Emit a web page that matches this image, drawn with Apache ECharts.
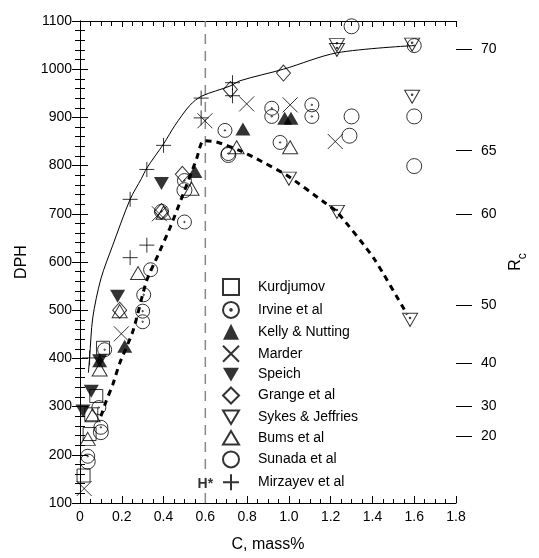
<!DOCTYPE html>
<html>
<head>
<meta charset="utf-8">
<script src="https://cdn.jsdelivr.net/npm/echarts@6/dist/echarts.min.js"></script>
<style>
body{margin:0;background:#fff}
#main{width:539px;height:558px}
</style>
</head>
<body>
<div id="main"></div>
<script>
// points: [C mass%, DPH]
var kurdjumov = [[0.11,422],[0.078,322],[0.054,284],[0.046,243],[0.017,157]]
var irvine = [[0.118,418],[0.09,298],[0.10,257],[0.037,197],[0.30,476],[0.30,498],[0.305,532],[0.338,584],
  [0.39,705],[0.50,683],[0.50,769],[0.694,873],[0.71,825],[0.918,919],[0.918,902],[0.958,848],[1.11,926],[1.11,902],[1.6,1049]]
var kelly = [[0.094,395],[0.214,425],[0.55,788],[0.78,876],[0.98,898],[1.01,898]]
var marder = [[0.02,130],[0.198,451],[0.38,700],[0.598,893],[0.798,928],[1.006,926],[1.222,850]]
var speich = [[0.014,291],[0.054,332],[0.094,395],[0.18,529],[0.39,763]]
var grange = [[0.19,500],[0.39,705],[0.49,782],[0.72,958],[0.974,992]]
var sykes = [[1.23,1050],[1.23,1040],[1.59,1051],[1.59,943],[1.0,773],[1.23,704],[1.58,480]]
var bums = [[0.037,233],[0.06,282],[0.094,377],[0.19,498],[0.278,577],[0.40,702],[0.534,752],[0.75,838],[1.006,838]]
var sunada = [[0.037,186],[0.10,247],[0.50,749],[0.71,822],[1.30,1089],[1.30,902],[1.29,862],[1.6,902],[1.6,799]]
var mirzayev = [[0.046,401],[0.24,609],[0.32,635],[0.24,730],[0.32,792],[0.40,842],[0.58,940],[0.58,899],[0.73,972],[0.73,945]]

// fitted curves
var curveSolid = [[0.04,370],[0.046,401],[0.061,484],[0.1,565],[0.157,635],[0.24,730],[0.294,773],[0.32,795],
  [0.40,845],[0.454,883],[0.526,925],[0.582,944],[0.718,965],[0.766,976],[0.974,1000],[1.23,1034],[1.598,1049]]
var curveDashed = [[0.1,280],[0.126,312],[0.157,346],[0.19,390],[0.253,456],[0.318,560],[0.374,615],[0.43,670],
  [0.486,732],[0.558,814],[0.59,852],[0.654,849],[0.766,831],[0.846,814],[0.99,780],[1.166,725],[1.23,704],[1.406,608],[1.566,491]]

var hStarC = 0.6
// Rockwell C scale on the right, with matching DPH values
var rcLabels = [20, 30, 40, 50, 60, 65, 70]
var rcDph = [238, 300, 390, 510, 700, 831, 1041]

var circleDot = 'path://M10,0A10,10 0 1,1 10,20A10,10 0 1,1 10,0ZM10,9A1,1 0 1,1 10,11A1,1 0 1,1 10,9Z'
var circle = 'path://M10,0A10,10 0 1,1 10,20A10,10 0 1,1 10,0Z'
var cross = 'path://M0,0L20,20M20,0L0,20'
var plus = 'path://M10,0L10,20M0,10L20,10'
var downTri = 'path://M0,0L20,0L10,17Z'
var downTriDot = 'path://M0,0L20,0L10,17ZM10,5A1,1 0 1,1 10,7A1,1 0 1,1 10,5Z'
var upTri = 'path://M10,0L20,17L0,17Z'

function scat(name, data, symbol, size, filled) {
  return {
    name: name, type: 'scatter', data: data, symbol: symbol, symbolSize: size,
    itemStyle: {color: filled ? '#000' : 'rgba(0,0,0,0)', borderColor: '#000', borderWidth: filled ? 0 : 1},
    emphasis: {disabled: true}, silent: true, z: 3
  }
}

var font = 'Liberation Sans, Arial, sans-serif'
var black = {color: '#000', width: 1}

var myChart = echarts.init(document.getElementById('main'))
var option = {
  animation: false,
  textStyle: {fontFamily: font},
  grid: {left: 80, right: 83, top: 21, bottom: 52},
  legend: {
    orient: 'vertical', left: 222, top: 278, padding: 0,
    itemWidth: 16, itemHeight: 16, itemGap: 4.9,
    selectedMode: false,
    textStyle: {fontSize: 14, color: '#000', fontFamily: font, padding: [0, 0, 0, 14]},
    data: ['Kurdjumov', 'Irvine et al', 'Kelly & Nutting', 'Marder', 'Speich', 'Grange et al',
      {name: 'Sykes & Jeffries', icon: downTri}, 'Bums et al', 'Sunada et al', 'Mirzayev et al']
  },
  xAxis: [{
    type: 'value', position: 'bottom', min: 0, max: 1.8, interval: 0.2,
    axisLine: {lineStyle: black},
    axisTick: {inside: true, length: 7, lineStyle: black},
    minorTick: {show: true, splitNumber: 4, length: 4, lineStyle: black},
    splitLine: {show: false},
    axisLabel: {color: '#000', fontSize: 14, margin: 7, formatter: function (v) { return v === 0 ? '0' : v.toFixed(1) }},
    name: 'C, mass%', nameLocation: 'middle', nameGap: 34,
    nameTextStyle: {fontSize: 16, color: '#000'}
  }, {
    type: 'value', position: 'top', min: 0, max: 1.8, interval: 0.2,
    axisLine: {lineStyle: black},
    axisTick: {inside: true, length: 6, lineStyle: black},
    minorTick: {show: true, splitNumber: 4, length: 5, lineStyle: black},
    splitLine: {show: false},
    axisLabel: {show: false}
  }],
  yAxis: [{
    type: 'value', position: 'left', min: 100, max: 1100, interval: 100,
    axisLine: {show: true, lineStyle: black},
    axisTick: {inside: true, length: 8, lineStyle: black},
    minorTick: {show: true, splitNumber: 5, length: 5, lineStyle: black},
    splitLine: {show: false},
    axisLabel: {color: '#000', fontSize: 14, margin: 8, formatter: function (v) { return String(v) }},
    name: 'DPH', nameLocation: 'middle', nameRotate: 90, nameGap: 46,
    nameTextStyle: {fontSize: 16, color: '#000'}
  }, {
    type: 'value', position: 'right', min: 100, max: 1100, interval: 100,
    axisLine: {show: true, lineStyle: black},
    axisTick: {inside: true, length: 8, lineStyle: black},
    minorTick: {show: true, splitNumber: 5, length: 5, lineStyle: black},
    splitLine: {show: false},
    axisLabel: {show: false}
  }, {
    type: 'value', position: 'right', offset: 0, min: 100, max: 1100, interval: 100,
    axisLine: {show: false},
    axisTick: {show: true, inside: false, length: 16, customValues: rcDph, lineStyle: black},
    splitLine: {show: false},
    axisLabel: {
      color: '#000', fontSize: 14, margin: 25, customValues: rcDph,
      formatter: function (v) { var i = rcDph.indexOf(v); return i >= 0 ? String(rcLabels[i]) : '' }
    },
    name: '{r|R}{s|c}', nameLocation: 'middle', nameRotate: 90, nameGap: 51,
    nameTextStyle: {
      color: '#000',
      rich: {
        r: {fontSize: 16, color: '#000', verticalAlign: 'bottom', padding: [0, 0, 5, 0]},
        s: {fontSize: 12, color: '#000', verticalAlign: 'bottom'}
      }
    }
  }],
  series: [
    {
      type: 'line', data: [[hStarC, 100], [hStarC, 1100]], symbol: 'none', silent: true, z: 1,
      lineStyle: {color: '#888', width: 1.5, type: [10, 7]}
    },
    {
      type: 'line', data: curveSolid, symbol: 'none', smooth: 0.3, silent: true, z: 2,
      lineStyle: {color: '#000', width: 1}
    },
    {
      type: 'line', data: curveDashed, symbol: 'none', smooth: 0.2, silent: true, z: 2,
      lineStyle: {color: '#000', width: 3, type: [6, 5]}
    },
    {
      type: 'scatter', data: [[hStarC, 140]], symbol: 'rect', symbolSize: 1, silent: true, z: 4,
      itemStyle: {color: 'rgba(0,0,0,0)'},
      label: {show: true, position: 'inside', formatter: 'H*', fontSize: 14, fontWeight: 'bold', color: '#000', backgroundColor: '#fff', padding: [1, 1]}
    },
    scat('Kurdjumov', kurdjumov, 'rect', 13, false),
    scat('Irvine et al', irvine, circleDot, 14, false),
    scat('Kelly & Nutting', kelly, 'triangle', [15, 13], true),
    scat('Marder', marder, cross, 15, false),
    scat('Speich', speich, downTri, [15, 13], true),
    scat('Grange et al', grange, 'diamond', [14, 16], false),
    scat('Sykes & Jeffries', sykes, downTriDot, [15, 13], false),
    scat('Bums et al', bums, upTri, [15, 13], false),
    scat('Sunada et al', sunada, circle, 15, false),
    scat('Mirzayev et al', mirzayev, plus, 15, false)
  ]
}
myChart.setOption(option)
</script>
</body>
</html>
